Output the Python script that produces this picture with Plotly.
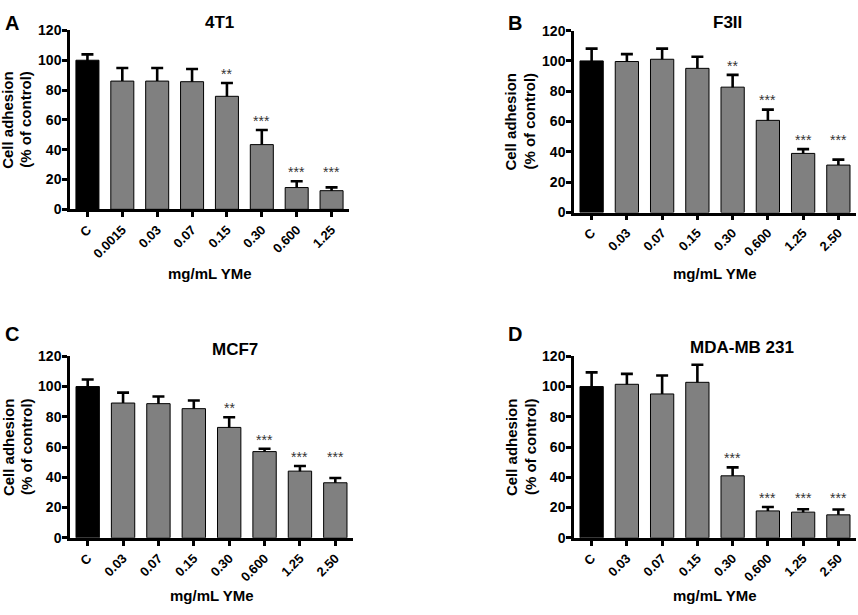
import plotly.graph_objects as go

# dose labels (mg/mL YMe)
doses_a = ["C", "0.0015", "0.03", "0.07", "0.15", "0.30", "0.600", "1.25"]
doses_bcd = ["C", "0.03", "0.07", "0.15", "0.30", "0.600", "1.25", "2.50"]

# cell adhesion, % of control (mean and upper SEM)
mean_4t1 = [100, 86.0, 86.0, 85.6, 75.8, 43.4, 14.6, 12.5]
sem_4t1 = [3.9, 8.8, 8.8, 8.5, 8.9, 9.8, 4.2, 2.2]
stars_4t1 = ["", "", "", "", "**", "***", "***", "***"]

mean_f3ii = [100, 99.6, 101.1, 95.1, 82.7, 60.8, 39.0, 31.3]
sem_f3ii = [8.1, 4.9, 7.0, 7.7, 8.1, 7.1, 2.8, 3.6]
stars_f3ii = ["", "", "", "", "**", "***", "***", "***"]

mean_mcf7 = [100, 89.1, 88.7, 85.4, 73.0, 57.0, 44.1, 36.4]
sem_mcf7 = [4.7, 6.9, 4.7, 5.4, 6.7, 1.9, 3.4, 3.2]
stars_mcf7 = ["", "", "", "", "**", "***", "***", "***"]

mean_mda = [100, 101.5, 95.1, 102.8, 41.0, 17.8, 17.0, 15.2]
sem_mda = [9.4, 6.9, 12.2, 11.6, 5.6, 2.6, 1.9, 3.5]
stars_mda = ["", "", "", "", "***", "***", "***", "***"]

W, H = 858, 615
FONT = "Arial, Liberation Sans, sans-serif"

# panel: letter, title, data, pixel box (left, right, top, bottom), title pos, letter pos, y-title x, x-title y
panels = [
    ("A", "4T1", doses_a, mean_4t1, sem_4t1, stars_4t1,
     (70, 349, 23, 206.7), (220, 15), (12, 15), (8, 26), 273),
    ("B", "F3II", doses_bcd, mean_f3ii, sem_f3ii, stars_f3ii,
     (574, 856, 23.2, 210), (727, 15), (515, 15), (511, 530), 273),
    ("C", "MCF7", doses_bcd, mean_mcf7, sem_mcf7, stars_mcf7,
     (70, 353, 357.6, 544), (235, 351), (12, 335), (8, 26), 603),
    ("D", "MDA-MB 231", doses_bcd, mean_mda, sem_mda, stars_mda,
     (574, 856, 357.6, 544), (742, 349), (515, 335), (511, 530), 603),
]


def px(x):
    return x / W


def py(y):
    return 1 - y / H


def bold(size, color="black"):
    return dict(family=FONT, size=size, color=color, weight="bold")


fig = go.Figure()
annotations = []
layout = {}

for i, (letter, title, doses, means, sems, stars, box, tpos, lpos, ytx, xty) in enumerate(panels):
    n = "" if i == 0 else str(i + 1)
    xa, ya = "x" + n, "y" + n
    colors = ["black"] + ["#808080"] * (len(doses) - 1)

    # error bars first, so the lower half is hidden behind the bars
    fig.add_trace(go.Bar(
        x=doses, y=means, xaxis=xa, yaxis=ya, width=0.66,
        marker=dict(color="rgba(0,0,0,0)", line=dict(width=0)),
        error_y=dict(type="data", array=sems, symmetric=True,
                     color="black", thickness=2.6, width=6),
        showlegend=False, hoverinfo="skip",
    ))
    fig.add_trace(go.Bar(
        x=doses, y=means, xaxis=xa, yaxis=ya, width=0.66,
        marker=dict(color=colors, line=dict(color="black", width=1)),
        showlegend=False,
    ))

    left, right, top, bottom = box
    axis_common = dict(showline=True, linewidth=2.5, linecolor="black",
                       ticks="outside", ticklen=5, tickwidth=2.5, tickcolor="black",
                       showgrid=False, zeroline=False)
    layout["xaxis" + n] = dict(axis_common, domain=[px(left), px(right)], anchor=ya,
                               type="category", range=[-0.5, len(doses) - 0.5],
                               tickangle=-45, tickfont=bold(13))
    layout["yaxis" + n] = dict(axis_common, domain=[py(bottom), py(top)], anchor=xa,
                               range=[0, 120], tickvals=[0, 20, 40, 60, 80, 100, 120],
                               tickfont=bold(14), ticklabelstandoff=-2)

    # significance stars above the error bars
    tops = [m + s for m, s in zip(means, sems)]
    for j, s in enumerate(stars):
        if not s:
            continue
        grp = [tops[k] for k in range(len(stars)) if stars[k] and abs(tops[k] - tops[j]) < 10]
        annotations.append(dict(x=j, y=max(grp) + 6, xref=xa, yref=ya,
                                text=s, showarrow=False, yanchor="middle",
                                font=dict(family=FONT, size=14, color="#333333")))

    annotations += [
        dict(x=px(tpos[0]), y=py(tpos[1]), xref="paper", yref="paper",
             text=title, showarrow=False, xanchor="center", yanchor="middle",
             font=bold(17)),
        dict(x=px(lpos[0]), y=py(lpos[1]), xref="paper", yref="paper",
             text=letter, showarrow=False, xanchor="center", yanchor="middle",
             font=bold(20)),
        dict(x=px((left + right) / 2), y=py(xty), xref="paper", yref="paper",
             text="mg/mL YMe", showarrow=False, xanchor="center", yanchor="middle",
             font=bold(15)),
    ]
    for line, lx in zip(["Cell adhesion", "(% of control)"], ytx):
        annotations.append(dict(x=px(lx), y=py((top + bottom) / 2), xref="paper", yref="paper",
                                text=line, textangle=-90, showarrow=False,
                                xanchor="center", yanchor="middle", font=bold(15)))

fig.update_layout(
    width=W, height=H,
    margin=dict(l=0, r=0, t=0, b=0),
    paper_bgcolor="white", plot_bgcolor="white",
    barmode="overlay",
    annotations=annotations,
    **layout,
)

# drop the browser's default body margin so the figure sits at the page corner
fig.write_html("out.html", config={"displayModeBar": False},
               post_script="document.body.style.margin = '0px';")
